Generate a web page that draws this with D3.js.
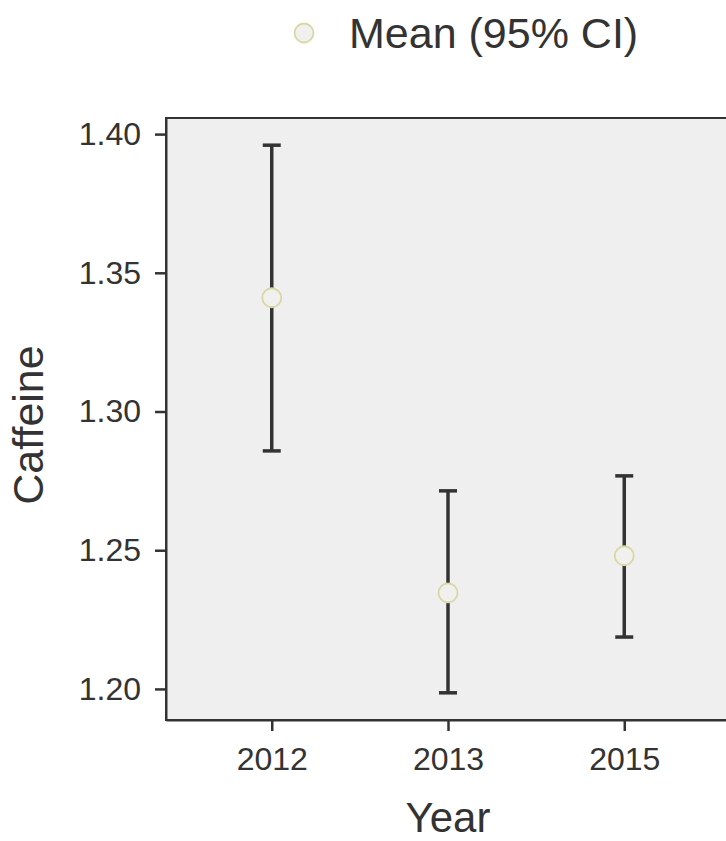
<!DOCTYPE html>
<html>
<head>
<meta charset="utf-8">
<script src="https://cdn.jsdelivr.net/npm/d3@7"></script>
<style>
  body { margin: 0; background: #fff; }
  svg text { font-family: "Liberation Sans", Arial, sans-serif; fill: #333; }
</style>
</head>
<body>
<div id="chart"></div>
<script>
const years = ['2012', '2013', '2015'];
const means = [1.341, 1.2346, 1.248];
const lower = [1.2858, 1.1986, 1.2187];
const upper = [1.396, 1.2714, 1.2768];
const yTicks = [1.20, 1.25, 1.30, 1.35, 1.40];
const legendLabel = 'Mean (95% CI)';

const width = 726, height = 841;
// panel runs past the right edge of the picture
const margin = { top: 118, right: -4, bottom: 121, left: 166 };

const svg = d3.select('#chart')
    .append('svg')
    .attr('width', width)
    .attr('height', height);

const x = d3.scalePoint()
    .domain(years)
    .range([margin.left, width - margin.right])
    .padding(0.6);

const y = d3.scaleLinear()
    .domain([1.1888, 1.4058])
    .range([height - margin.bottom, margin.top]);

// panel background + border
svg.append('rect')
    .attr('x', margin.left)
    .attr('y', margin.top)
    .attr('width', width - margin.right - margin.left)
    .attr('height', height - margin.bottom - margin.top)
    .attr('fill', '#efefef')
    .attr('stroke', '#333')
    .attr('stroke-width', 2);

// axes
const yAxis = svg.append('g')
    .attr('transform', `translate(${margin.left},0)`)
    .call(d3.axisLeft(y).tickValues(yTicks).tickFormat(d3.format('.2f'))
        .tickSize(11).tickSizeOuter(0).tickPadding(14));

const xAxis = svg.append('g')
    .attr('transform', `translate(0,${height - margin.bottom})`)
    .call(d3.axisBottom(x).tickSize(11).tickSizeOuter(0).tickPadding(16));

[yAxis, xAxis].forEach(g => {
    g.select('.domain').attr('stroke', '#333').attr('stroke-width', 2);
    g.selectAll('.tick line').attr('stroke', '#333').attr('stroke-width', 2.5);
    g.selectAll('.tick text').attr('font-size', 32).attr('fill', '#333');
});

// error bars
const data = years.map((yr, i) => ({ yr, mean: means[i], lo: lower[i], hi: upper[i] }));
const bars = svg.append('g');
bars.selectAll('line.whisker')
    .data(data)
    .join('line')
    .attr('class', 'whisker')
    .attr('x1', d => x(d.yr)).attr('x2', d => x(d.yr))
    .attr('y1', d => y(d.lo)).attr('y2', d => y(d.hi))
    .attr('stroke', '#333').attr('stroke-width', 3.5);

const capW = 9;
['lo', 'hi'].forEach(k => {
    bars.selectAll(`line.cap-${k}`)
        .data(data)
        .join('line')
        .attr('class', `cap-${k}`)
        .attr('x1', d => x(d.yr) - capW).attr('x2', d => x(d.yr) + capW)
        .attr('y1', d => y(d[k])).attr('y2', d => y(d[k]))
        .attr('stroke', '#333').attr('stroke-width', 3.5);
});

bars.selectAll('circle')
    .data(data)
    .join('circle')
    .attr('cx', d => x(d.yr))
    .attr('cy', d => y(d.mean))
    .attr('r', 9.5)
    .attr('fill', '#f0f0ee')
    .attr('stroke', '#d8d8a4')
    .attr('stroke-width', 1.8);

// axis titles
svg.append('text')
    .attr('x', (margin.left + 730) / 2)
    .attr('y', 832)
    .attr('text-anchor', 'middle')
    .attr('font-size', 42)
    .text('Year');

svg.append('text')
    .attr('transform', `translate(43,${(margin.top + height - margin.bottom) / 2 + 6}) rotate(-90)`)
    .attr('text-anchor', 'middle')
    .attr('font-size', 43)
    .text('Caffeine');

// legend
const legend = svg.append('g');
legend.append('circle')
    .attr('cx', 304)
    .attr('cy', 33)
    .attr('r', 9.5)
    .attr('fill', '#f0f0ee')
    .attr('stroke', '#d8d8a4')
    .attr('stroke-width', 1.8);
legend.append('text')
    .attr('x', 349)
    .attr('y', 48)
    .attr('font-size', 43)
    .text(legendLabel);
</script>
</body>
</html>
